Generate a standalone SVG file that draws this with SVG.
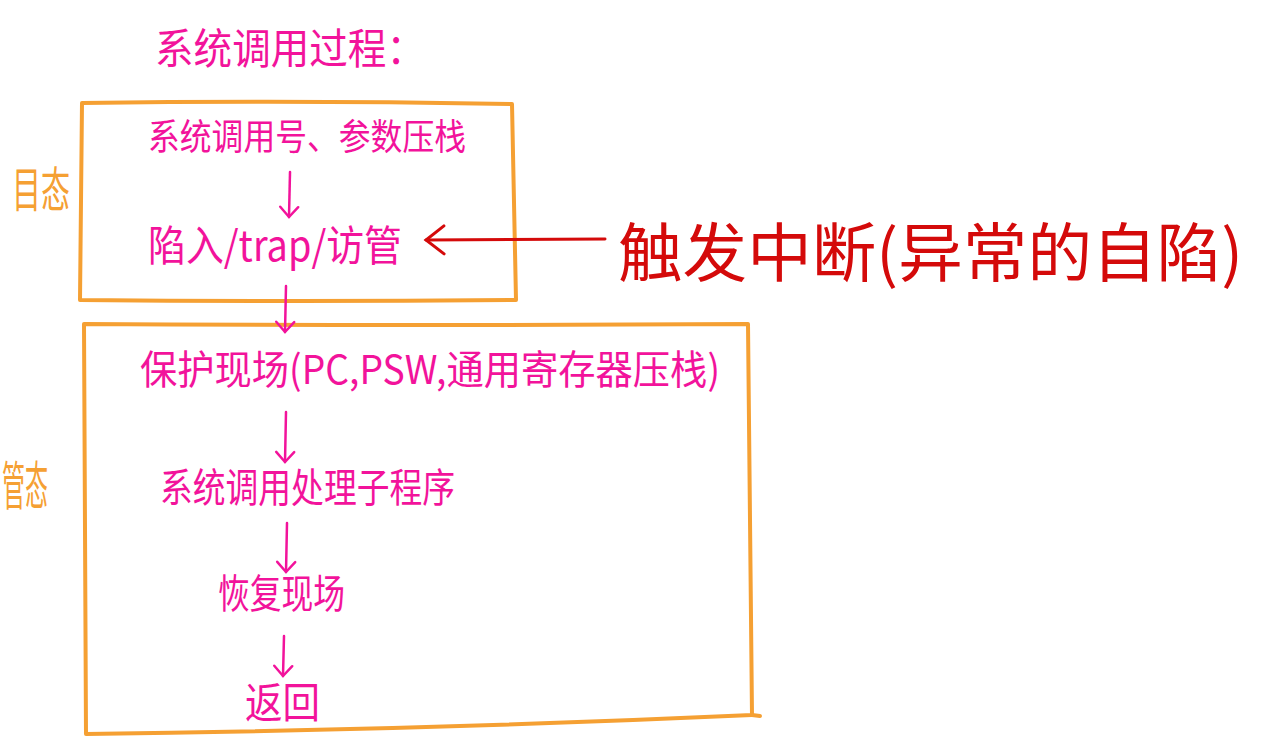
<svg xmlns="http://www.w3.org/2000/svg" width="1268" height="750" viewBox="0 0 1268 750">
<style>
.t{font-family:"Noto Sans CJK SC","Liberation Sans",sans-serif;fill:#F2139B;}
.o{font-family:"Noto Sans CJK SC","Liberation Sans",sans-serif;fill:#F5A033;}
.r{font-family:"Noto Sans CJK SC","Liberation Sans",sans-serif;fill:#D40A0A;}
.box{fill:none;stroke:#F5A033;stroke-width:4;stroke-linejoin:round;stroke-linecap:round;}
.pa{fill:none;stroke:#F2139B;stroke-width:2.5;stroke-linecap:round;}
.ra{fill:none;stroke:#D40A0A;stroke-width:3;stroke-linecap:round;}
</style>
<defs>
<marker id="ap" markerWidth="24" markerHeight="24" refX="12" refY="12" orient="auto" markerUnits="userSpaceOnUse">
<path d="M2,3 L12,12 L2,21" fill="none" stroke="#F2139B" stroke-width="2.5" stroke-linecap="round"/>
</marker>
<marker id="ar" markerWidth="40" markerHeight="40" refX="20" refY="20" orient="auto" markerUnits="userSpaceOnUse">
<path d="M2,6 L20,20 L2,34" fill="none" stroke="#D40A0A" stroke-width="3" stroke-linecap="round"/>
</marker>
</defs>
<g id="title"><text class="t" x="155" y="64" font-size="42" textLength="270" lengthAdjust="spacingAndGlyphs">系统调用过程：</text></g>
<g id="user-box">
<path class="box" d="M82,103 Q300,100 512,104 L516,300 Q300,302 80,300 Z"/>
<text class="o" x="12" y="207" font-size="48" textLength="58" lengthAdjust="spacingAndGlyphs">目态</text>
</g>
<g id="kernel-box">
<path class="box" d="M84,324 Q420,326 748,324 L752,715 Q420,730 86,734 Z"/>
<path class="box" d="M752,715 L760,716"/>
<text class="o" x="2" y="505" font-size="52" textLength="46" lengthAdjust="spacingAndGlyphs">管态</text>
</g>
<g id="n1"><text class="t" x="148" y="150" font-size="36" textLength="318" lengthAdjust="spacingAndGlyphs">系统调用号、参数压栈</text></g>
<g id="n2"><text class="t" x="148" y="261" font-size="42" textLength="254" lengthAdjust="spacingAndGlyphs">陷入/trap/访管</text></g>
<g id="trigger"><text class="r" x="618" y="276" font-size="64" textLength="625" lengthAdjust="spacingAndGlyphs">触发中断(异常的自陷)</text></g>
<g id="n3"><text class="t" x="140" y="384" font-size="40" textLength="580" lengthAdjust="spacingAndGlyphs">保护现场(PC,PSW,通用寄存器压栈)</text></g>
<g id="n4"><text class="t" x="160" y="502" font-size="40" textLength="295" lengthAdjust="spacingAndGlyphs">系统调用处理子程序</text></g>
<g id="n5"><text class="t" x="218" y="608" font-size="40" textLength="127" lengthAdjust="spacingAndGlyphs">恢复现场</text></g>
<g id="n6"><text class="t" x="245" y="718" font-size="42" textLength="75" lengthAdjust="spacingAndGlyphs">返回</text></g>
<g id="connectors">
<path class="pa" d="M290,172 L289,217" marker-end="url(#ap)"/>
<path class="pa" d="M286,286 L285,332" marker-end="url(#ap)"/>
<path class="pa" d="M286,412 L285,462" marker-end="url(#ap)"/>
<path class="pa" d="M287,523 L286,572" marker-end="url(#ap)"/>
<path class="pa" d="M284,636 L283,676" marker-end="url(#ap)"/>
<path class="ra" d="M605,239 L426,240" marker-end="url(#ar)"/>
</g>
</svg>
